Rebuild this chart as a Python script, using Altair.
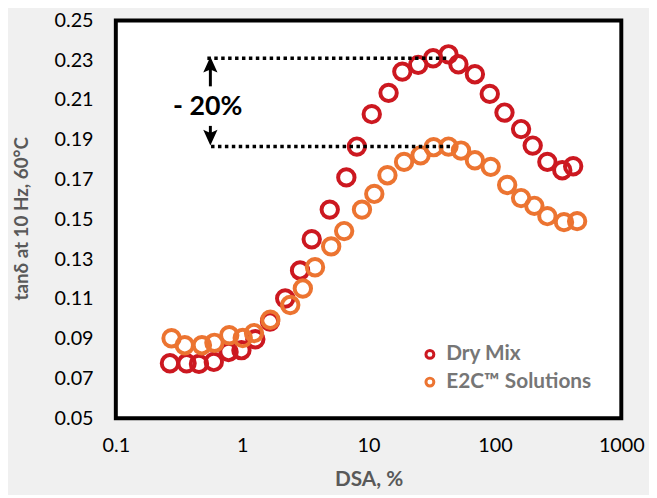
import altair as alt
import pandas as pd

# ---- data ----
series_names = ["Dry Mix", "E2C™ Solutions"]
series_colors = ["#cc1820", "#ec7431"]

dsa_dry = [0.268, 0.363, 0.455, 0.596, 0.780, 0.986, 1.27, 1.66, 2.19, 2.87, 3.55,
           4.93, 6.67, 8.08, 10.6, 14.4, 18.5, 24.7, 32.4, 42.9, 51.4, 69.4, 91.0,
           119, 161, 199, 260, 341, 416]
tan_dry = [0.0776, 0.0776, 0.0773, 0.0783, 0.0833, 0.0842, 0.0897, 0.0986, 0.1102,
           0.1243, 0.140, 0.1549, 0.1711, 0.1866, 0.2029, 0.2136, 0.2243, 0.2277,
           0.231, 0.233, 0.228, 0.223, 0.2131, 0.2037, 0.1954, 0.1871, 0.1789,
           0.1747, 0.1767]

dsa_e2c = [0.276, 0.351, 0.480, 0.603, 0.790, 1.01, 1.24, 1.67, 2.40, 3.02, 3.77,
           5.06, 6.41, 8.87, 11.1, 14.1, 19.1, 25.8, 32.7, 42.9, 53.9, 69.4, 92.6,
           125, 161, 205, 260, 352, 447]
tan_e2c = [0.0902, 0.0867, 0.0867, 0.0879, 0.0917, 0.0903, 0.0928, 0.0995, 0.1069,
           0.1152, 0.1259, 0.1364, 0.1441, 0.1549, 0.1628, 0.1722, 0.1789, 0.1822,
           0.1863, 0.1866, 0.1846, 0.1797, 0.1764, 0.1673, 0.1607, 0.1568, 0.1516,
           0.1486, 0.1491]

x_ticks = [0.1, 1, 10, 100, 1000]
y_ticks = [0.05, 0.07, 0.09, 0.11, 0.13, 0.15, 0.17, 0.19, 0.21, 0.23, 0.25]

# annotation: dotted reference lines, double arrow and label
ref_y = [0.231, 0.1866]
ref_x_start = [0.53, 0.567]
ref_x_end = [42.9, 46.5]
arrow_x = [0.56]
up_shaft = [0.2169, 0.2267]
up_head = [0.2278]
down_shaft = [0.197, 0.1924]
down_head = [0.1911]
label_text = ["- 20%"]
label_x = [0.534]
label_y = [0.2063]

FONT = "Lato"

df = pd.concat([
    pd.DataFrame({"DSA": dsa_dry, "tan": tan_dry, "Series": series_names[0]}),
    pd.DataFrame({"DSA": dsa_e2c, "tan": tan_e2c, "Series": series_names[1]}),
], ignore_index=True)

x_scale = alt.Scale(type="log", domain=[0.1, 1000], nice=False)
y_scale = alt.Scale(domain=[0.05, 0.25], nice=False, zero=False)

x_axis = alt.Axis(values=x_ticks, format="~g", grid=False, ticks=False, domain=False,
                  labelFont=FONT, labelFontSize=20, labelColor="#000000",
                  labelPadding=18, labelFlush=False, labelOverlap=False,
                  title="DSA, %", titleFont=FONT, titleFontSize=21,
                  titleFontWeight="bold", titleColor="#595959",
                  titleY=62, titleBaseline="middle")
y_axis = alt.Axis(values=y_ticks, format=".2f", grid=False, ticks=False, domain=False,
                  labelFont=FONT, labelFontSize=20, labelColor="#000000",
                  labelPadding=23, labelOverlap=False, labelSeparation=0,
                  title="tanδ at 10 Hz, 60°C", titleFont=FONT, titleFontSize=19,
                  titleFontWeight="bold", titleColor="#595959",
                  titleX=-95, titleY=200, titleAlign="center", titleBaseline="middle")

points = alt.Chart(df).mark_point(filled=False, size=275, strokeWidth=4, opacity=1).encode(
    x=alt.X("DSA:Q", scale=x_scale, axis=x_axis),
    y=alt.Y("tan:Q", scale=y_scale, axis=y_axis),
    color=alt.Color("Series:N",
                    scale=alt.Scale(domain=series_names, range=series_colors),
                    legend=alt.Legend(title=None, orient="none", legendX=307, legendY=327,
                                      padding=0, symbolType="circle", symbolSize=64,
                                      symbolStrokeWidth=3, labelFont=FONT,
                                      labelFontSize=21, labelFontWeight="bold",
                                      labelColor="#767676", labelOffset=6,
                                      rowPadding=6)),
)

ref_df = pd.DataFrame({"y": ref_y, "x1": ref_x_start, "x2": ref_x_end})
ref_lines = alt.Chart(ref_df).mark_rule(color="black", strokeWidth=3.5, strokeDash=[3.5, 3.5]).encode(
    x=alt.X("x1:Q", scale=x_scale), x2="x2:Q", y=alt.Y("y:Q", scale=y_scale)
)

up_df = pd.DataFrame({"x": arrow_x * 2, "y": up_shaft})
down_df = pd.DataFrame({"x": arrow_x * 2, "y": down_shaft})
up_line = alt.Chart(up_df).mark_line(color="black", strokeWidth=3).encode(
    x=alt.X("x:Q", scale=x_scale), y=alt.Y("y:Q", scale=y_scale))
down_line = alt.Chart(down_df).mark_line(color="black", strokeWidth=3).encode(
    x=alt.X("x:Q", scale=x_scale), y=alt.Y("y:Q", scale=y_scale))

up_head_df = pd.DataFrame({"x": arrow_x, "y": up_head})
down_head_df = pd.DataFrame({"x": arrow_x, "y": down_head})
up_tri = alt.Chart(up_head_df).mark_point(
    shape="M0,-1L0.9,1L0,0.6L-0.9,1Z", filled=True, size=256, color="black", opacity=1
).encode(x=alt.X("x:Q", scale=x_scale), y=alt.Y("y:Q", scale=y_scale))
down_tri = alt.Chart(down_head_df).mark_point(
    shape="M0,1L0.9,-1L0,-0.6L-0.9,-1Z", filled=True, size=256, color="black", opacity=1
).encode(x=alt.X("x:Q", scale=x_scale), y=alt.Y("y:Q", scale=y_scale))

lab_df = pd.DataFrame({"x": label_x, "y": label_y, "t": label_text})
label = alt.Chart(lab_df).mark_text(font=FONT, fontSize=27, fontWeight="bold",
                                    color="black", align="center", baseline="middle").encode(
    x=alt.X("x:Q", scale=x_scale), y=alt.Y("y:Q", scale=y_scale), text="t:N")

chart = alt.layer(points, ref_lines, up_line, down_line, up_tri, down_tri, label).properties(
    width=511, height=402, autosize="none",
    padding={"left": 109, "top": 10, "right": 28, "bottom": 75},
    background="#f0f0f0",
).configure_view(stroke="black", strokeWidth=4, fill="white")

chart.save("out.html", embed_options={"renderer": "svg", "actions": False})
